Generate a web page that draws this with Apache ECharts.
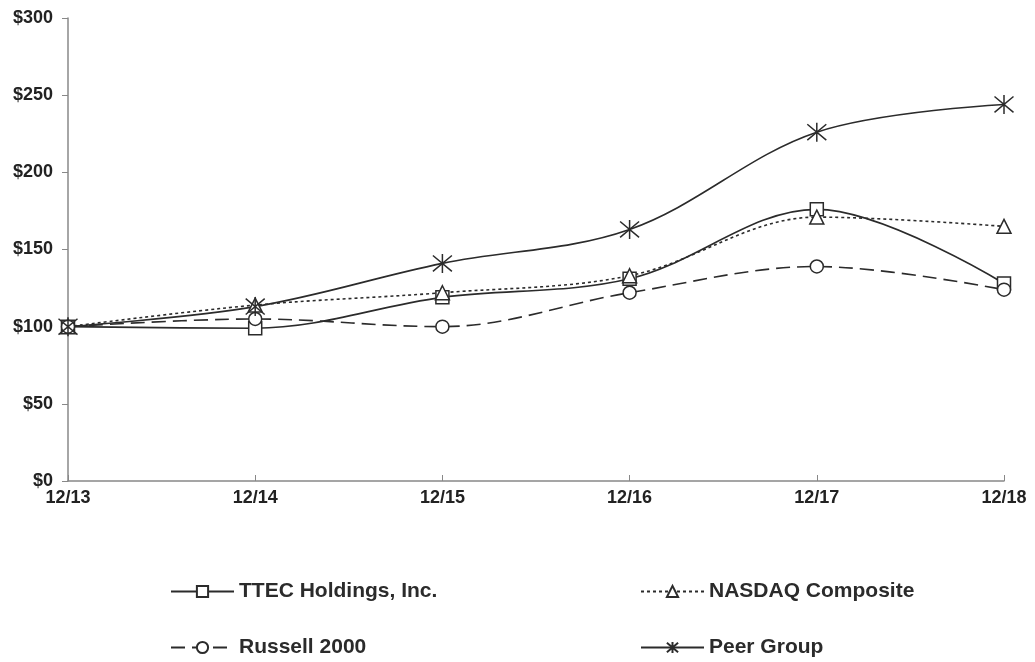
<!DOCTYPE html>
<html>
<head>
<meta charset="utf-8">
<script src="https://cdn.jsdelivr.net/npm/echarts@6/dist/echarts.min.js"></script>
<style>html,body{margin:0;padding:0;background:#fff}#c{width:1035px;height:662px}</style>
</head>
<body>
<div id="c"></div>
<script>
const categories = ['12/13', '12/14', '12/15', '12/16', '12/17', '12/18'];
const ttec = [100, 99, 119, 131, 176, 128];
const nasdaq = [100, 114, 122, 133, 171, 165];
const russell = [100, 105, 100, 122, 139, 124];
const peer = [100, 113, 141, 163, 226, 244];
const yTicks = [0, 50, 100, 150, 200, 250, 300];

const ink = '#2b2b2b';
const asterisk = 'path://M0 0L10 10M10 0L0 10M5 -1L5 11';
function series(name, data, symbol, size, lineType) {
  return {
    name, type: 'line', data, smooth: 0.35, symbol, symbolSize: size,
    lineStyle: { color: ink, width: 1.6, type: lineType },
    itemStyle: { color: symbol === asterisk ? 'none' : '#fff', borderColor: ink, borderWidth: 1.5 },
    emphasis: { disabled: true }
  };
}
const chart = echarts.init(document.getElementById('c'));
const legendBase = { padding: 0, itemWidth: 63, itemHeight: 14, textStyle: { fontFamily: 'Liberation Sans', fontWeight: 'bold', fontSize: 21, color: ink }, selectedMode: false };
const axisFont = { color: '#222', fontFamily: 'Liberation Sans', fontWeight: 'bold', fontSize: 18 };
chart.setOption({
  animation: false,
  grid: { left: 68, right: 31, top: 18, bottom: 181 },
  xAxis: {
    type: 'category', data: categories, boundaryGap: false,
    axisLine: { lineStyle: { color: '#888', width: 1.5 } },
    axisTick: { inside: true, length: 6, lineStyle: { color: '#888' } },
    axisLabel: Object.assign({ margin: 8 }, axisFont),
    splitLine: { show: false }
  },
  yAxis: {
    type: 'value', min: yTicks[0], max: yTicks[yTicks.length - 1], interval: 50,
    axisLine: { show: true, lineStyle: { color: '#888', width: 1.5 } },
    axisTick: { show: true, length: 6, lineStyle: { color: '#888' } },
    axisLabel: Object.assign({ margin: 15, formatter: v => '$' + v }, axisFont),
    splitLine: { show: false }
  },
  legend: [
    Object.assign({ data: ['TTEC Holdings, Inc.'], left: 170, top: 581 }, legendBase),
    Object.assign({ data: ['NASDAQ Composite'], left: 640, top: 581 }, legendBase),
    Object.assign({ data: ['Russell 2000'], left: 170, top: 637 }, legendBase),
    Object.assign({ data: ['Peer Group'], left: 640, top: 637 }, legendBase)
  ],
  series: [
    series('TTEC Holdings, Inc.', ttec, 'rect', 13, 'solid'),
    series('NASDAQ Composite', nasdaq, 'triangle', 14, [3, 3]),
    series('Russell 2000', russell, 'circle', 13, [14, 7]),
    series('Peer Group', peer, asterisk, 19, 'solid')
  ]
});
</script>
</body>
</html>
